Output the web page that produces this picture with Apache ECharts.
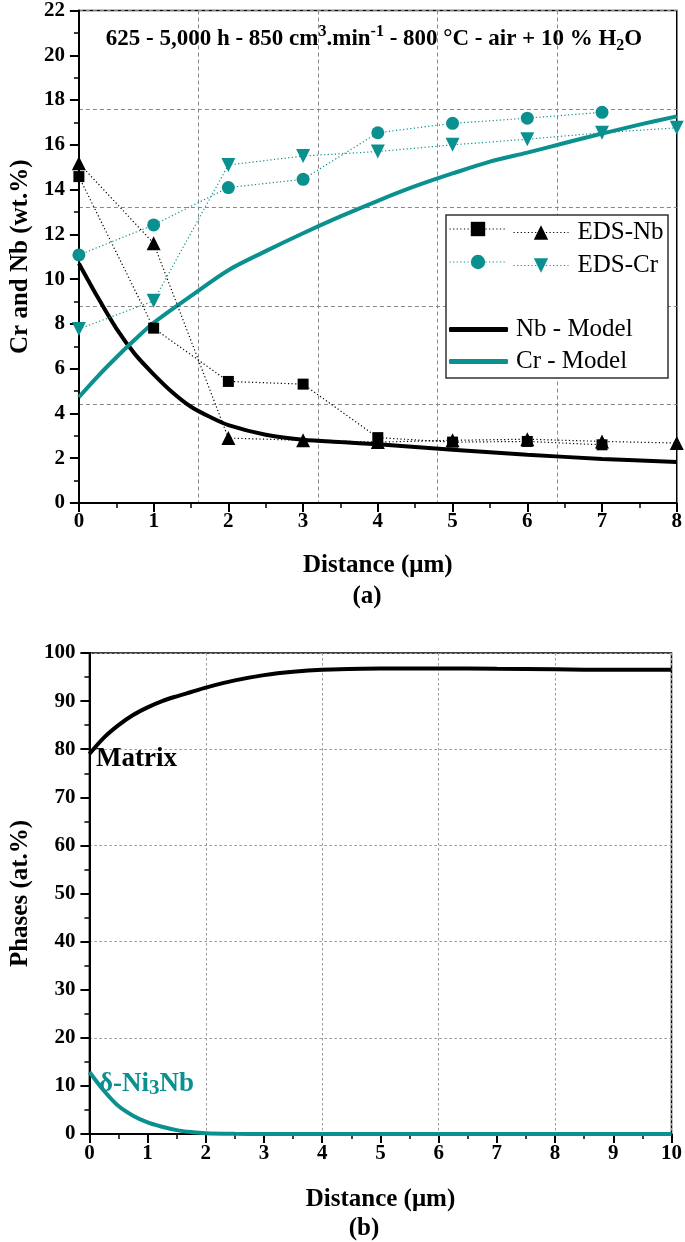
<!DOCTYPE html>
<html><head><meta charset="utf-8">
<script src="https://cdn.jsdelivr.net/npm/echarts@6/dist/echarts.min.js"></script>
<style>html,body{margin:0;padding:0;background:#fff}#c{width:685px;height:1242px}</style>
</head><body><div id="c"></div>
<script>
// ---------- data (a) ----------
const edsX        = [0, 1, 2, 3, 4, 5, 6, 7, 8];
const nbSquares   = [14.58, 7.81, 5.43, 5.31, 2.92, 2.72, 2.75, 2.6, null];
const nbTriangles = [15.18, 11.6, 2.9, 2.8, 2.72, 2.8, 2.85, 2.75, 2.68];
const crCircles   = [11.08, 12.42, 14.09, 14.46, 16.54, 16.96, 17.19, 17.45, null];
const crTriangles = [7.77, 9.03, 15.1, 15.5, 15.7, 16.0, 16.25, 16.54, 16.76];

const nbModelX = [0, 0.25, 0.5, 0.75, 1, 1.25, 1.5, 1.75, 2, 2.5, 3, 3.5, 4, 5, 6, 7, 8];
const nbModelY = [10.7, 9.2, 7.8, 6.65, 5.75, 4.95, 4.3, 3.85, 3.48, 3.05, 2.83, 2.72, 2.62, 2.38, 2.16, 1.97, 1.83];

const crModelX = [0, 0.25, 0.5, 0.75, 1, 1.5, 2, 2.5, 3, 3.5, 4, 4.5, 5, 5.5, 6, 6.5, 7, 7.5, 8];
const crModelY = [4.73, 5.65, 6.5, 7.3, 8.05, 9.25, 10.4, 11.25, 12.05, 12.8, 13.5, 14.15, 14.72, 15.25, 15.65, 16.08, 16.5, 16.9, 17.27];

// ---------- data (b) ----------
const phaseX  = [0, 0.25, 0.5, 0.75, 1, 1.25, 1.5, 1.75, 2, 2.5, 3, 3.5, 4, 5, 6, 7, 8, 9, 10];
const matrixY = [79, 82.4, 85.0, 87.1, 88.7, 90.0, 91.0, 91.9, 92.8, 94.3, 95.4, 96.1, 96.5, 96.8, 96.8, 96.7, 96.6, 96.5, 96.5];
const deltaY  = [12.9, 9.0, 5.8, 3.8, 2.4, 1.5, 0.8, 0.4, 0.15, 0.03, 0, 0, 0, 0, 0, 0, 0, 0, 0];

// ---------- styling ----------
const FONT = "'Liberation Serif', 'Times New Roman', serif";
const TEAL = '#0b9090';
const zip = (xs, ys) => xs.map((x, i) => [x, ys[i]]);

const tickLabel = {fontFamily: FONT, fontWeight: 'bold', fontSize: 21, color: '#000'};
const axisName = {fontFamily: FONT, fontWeight: 'bold', fontSize: 25, color: '#000', verticalAlign: 'middle'};

function mainAxis(gridIndex, position, min, max, interval, labelMargin, name, nameGap) {
  return {
    type: 'value', gridIndex, position, min, max, interval,
    axisLine: {show: true, onZero: false, lineStyle: {color: '#000', width: 2}},
    axisTick: {show: true, inside: false, length: 9, lineStyle: {color: '#000', width: 2}},
    minorTick: {show: true, splitNumber: 2, length: 5, lineStyle: {color: '#000', width: 1.5}},
    axisLabel: Object.assign({margin: labelMargin}, tickLabel),
    splitLine: {show: false},
    name, nameLocation: 'middle', nameGap, nameTextStyle: axisName,
    nameRotate: (position === 'left') ? 90 : 0
  };
}
function gridAxis(gridIndex, position, min, max, interval, dash, color) {
  return {
    type: 'value', gridIndex, position, min, max, interval,
    axisLine: {show: false}, axisTick: {show: false}, axisLabel: {show: false},
    splitLine: {show: true, lineStyle: {color, width: 1, type: dash}}
  };
}

const legendText = {fontFamily: FONT, fontSize: 25, color: '#000'};
function legendItem(name, left, top, itemWidth, showText, pad, extra) {
  return Object.assign({
    data: [name], left, top, padding: 0, itemWidth, itemHeight: 18, itemGap: 0,
    selectedMode: false,
    lineStyle: {width: 1},
    formatter: showText ? (n => n) : (() => ''),
    textStyle: Object.assign({padding: [0, 0, 0, pad]}, legendText)
  }, extra || {});
}

const DOT = [1.2, 2.4];

const option = {
  animation: false,
  backgroundColor: '#fff',
  grid: [
    {left: 68, top: 10, width: 614, height: 493, show: true, borderColor: '#000', borderWidth: 1.5},
    {left: 77, top: 653, width: 599, height: 481, show: true, borderColor: '#000', borderWidth: 1.5}
  ],
  xAxis: [
    gridAxis(0, 'top', 0, 8, 1.6, [4, 3], '#888'),
    mainAxis(0, 'bottom', 0, 8, 1, 8, 'Distance (μm)', 63),
    gridAxis(1, 'top', 0, 10, 2, [2.5, 2.5], '#999'),
    mainAxis(1, 'bottom', 0, 10, 1, 9, 'Distance (μm)', 66)
  ],
  yAxis: [
    gridAxis(0, 'right', 0, 22, 4.4, [4, 3], '#888'),
    mainAxis(0, 'left', 0, 22, 2, 14, 'Cr and Nb (wt.%)', 57),
    gridAxis(1, 'right', 0, 100, 20, [2.5, 2.5], '#999'),
    mainAxis(1, 'left', 0, 100, 10, 14, 'Phases (at.%)', 64)
  ],
  legend: [
    legendItem('EDS-Nb sq', 449, 220, 57, false, 0),
    legendItem('EDS-Nb', 513, 220, 55, true, 4),
    legendItem('EDS-Cr ci', 449, 253, 57, false, 0),
    legendItem('EDS-Cr', 513, 253, 55, true, 4),
    legendItem('Nb - Model', 449, 317, 59, true, 3, {icon: 'roundRect', itemHeight: 5}),
    legendItem('Cr - Model', 449, 349, 59, true, 3, {icon: 'roundRect', itemHeight: 5})
  ],
  graphic: [
    {type: 'rect', z: 1, shape: {x: 446, y: 215, width: 222, height: 163},
     style: {fill: '#fff', stroke: '#333', lineWidth: 1.5}},
    {type: 'text', z: 5, x: 374, y: 39,
     style: {
       text: '{t|625 - 5,000 h - 850 cm}{sup|3}{t|.min}{sup|-1}{t| - 800 °C - air + 10 % H}{sub|2}{t|O}',
       align: 'center', verticalAlign: 'middle',
       rich: {
         t: {fontFamily: FONT, fontWeight: 'bold', fontSize: 23, lineHeight: 30, fill: '#000'},
         sup: {fontFamily: FONT, fontWeight: 'bold', fontSize: 16, lineHeight: 16, verticalAlign: 'top', fill: '#000'},
         sub: {fontFamily: FONT, fontWeight: 'bold', fontSize: 16, lineHeight: 16, verticalAlign: 'bottom', fill: '#000'}
       }
     }},
    {type: 'text', z: 5, x: 367, y: 597,
     style: {text: '(a)', align: 'center', verticalAlign: 'middle', font: "bold 25px 'Liberation Serif', serif", fill: '#000'}},
    {type: 'text', z: 5, x: 364, y: 1229,
     style: {text: '(b)', align: 'center', verticalAlign: 'middle', font: "bold 25px 'Liberation Serif', serif", fill: '#000'}},
    {type: 'text', z: 5, x: 96, y: 759,
     style: {text: 'Matrix', align: 'left', verticalAlign: 'middle', font: "bold 27px 'Liberation Serif', serif", fill: '#000'}},
    {type: 'text', z: 5, x: 99, y: 1084,
     style: {
       text: '{a|δ-Ni}{s|3}{a|Nb}', align: 'left', verticalAlign: 'middle',
       rich: {
         a: {fontFamily: FONT, fontWeight: 'bold', fontSize: 27, lineHeight: 30, fill: TEAL},
         s: {fontFamily: FONT, fontWeight: 'bold', fontSize: 21, lineHeight: 21, verticalAlign: 'bottom', fill: TEAL}
       }
     }}
  ],
  series: [
    {name: 'Nb - Model', type: 'line', xAxisIndex: 1, yAxisIndex: 1, data: zip(nbModelX, nbModelY),
     symbol: 'none', smooth: 0.3, z: 2,
     lineStyle: {color: '#000', width: 4}, itemStyle: {color: '#000'}},
    {name: 'Cr - Model', type: 'line', xAxisIndex: 1, yAxisIndex: 1, data: zip(crModelX, crModelY),
     symbol: 'none', smooth: 0.3, z: 2,
     lineStyle: {color: TEAL, width: 4}, itemStyle: {color: TEAL}},
    {name: 'EDS-Nb sq', type: 'line', xAxisIndex: 1, yAxisIndex: 1, data: zip(edsX, nbSquares),
     symbol: 'rect', symbolSize: 11, z: 3,
     lineStyle: {color: '#000', width: 1.2, type: DOT}, itemStyle: {color: '#000'}},
    {name: 'EDS-Nb', type: 'line', xAxisIndex: 1, yAxisIndex: 1, data: zip(edsX, nbTriangles),
     symbol: 'triangle', symbolSize: 14, z: 3,
     lineStyle: {color: '#000', width: 1.2, type: DOT}, itemStyle: {color: '#000'}},
    {name: 'EDS-Cr ci', type: 'line', xAxisIndex: 1, yAxisIndex: 1, data: zip(edsX, crCircles),
     symbol: 'circle', symbolSize: 13, z: 3,
     lineStyle: {color: TEAL, width: 1.2, type: DOT}, itemStyle: {color: TEAL}},
    {name: 'EDS-Cr', type: 'line', xAxisIndex: 1, yAxisIndex: 1, data: zip(edsX, crTriangles),
     symbol: 'triangle', symbolRotate: 180, symbolSize: 14, z: 3,
     lineStyle: {color: TEAL, width: 1.2, type: DOT}, itemStyle: {color: TEAL}},
    {name: 'Matrix', type: 'line', xAxisIndex: 3, yAxisIndex: 3, data: zip(phaseX, matrixY),
     symbol: 'none', smooth: 0.3, z: 2,
     lineStyle: {color: '#000', width: 4}},
    {name: 'δ-Ni3Nb', type: 'line', xAxisIndex: 3, yAxisIndex: 3, data: zip(phaseX, deltaY),
     symbol: 'none', smooth: 0.3, z: 2,
     lineStyle: {color: TEAL, width: 4}}
  ]
};
const chart = echarts.init(document.getElementById('c'), null, {renderer: 'canvas'});
chart.setOption(option);
</script></body></html>
